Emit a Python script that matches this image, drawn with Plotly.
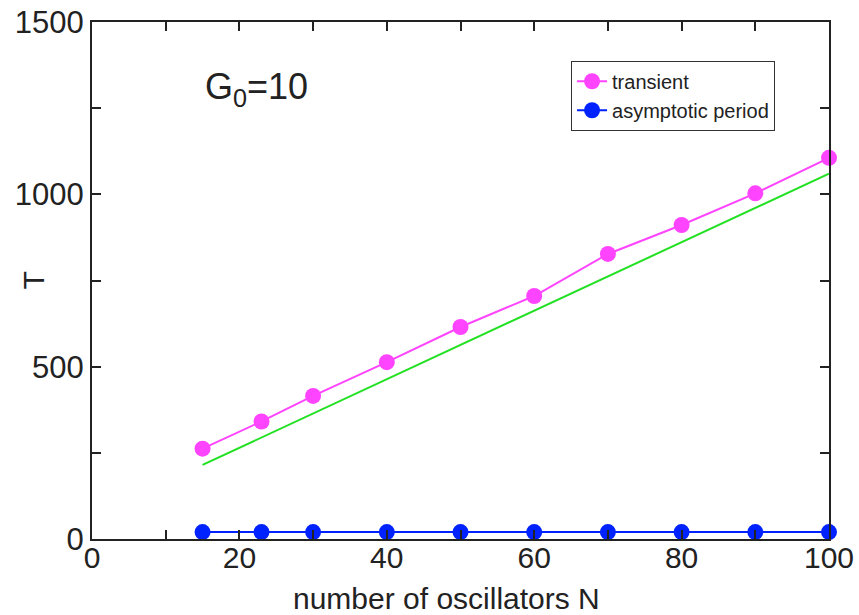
import plotly.graph_objects as go

N = [15, 23, 30, 40, 50, 60, 70, 80, 90, 100]
transient = [262, 341, 415, 513, 615, 705, 827, 911, 1003, 1106]
asymptotic = [20, 20, 20, 20, 20, 20, 20, 20, 20, 20]
fit_x = [15, 100]
fit_y = [215, 1060]

FONT = "Liberation Sans, Arial, sans-serif"
AX = "#222222"

fig = go.Figure()
fig.add_trace(go.Scatter(x=fit_x, y=fit_y, mode="lines",
                         line=dict(color="#22e022", width=2),
                         showlegend=False, cliponaxis=False))
fig.add_trace(go.Scatter(x=N, y=transient, mode="lines+markers", name="transient",
                         line=dict(color="#ff44ff", width=2),
                         marker=dict(color="#ff44ff", size=16),
                         cliponaxis=False))
fig.add_trace(go.Scatter(x=N, y=asymptotic, mode="lines+markers", name="asymptotic period",
                         line=dict(color="#0022ff", width=2),
                         marker=dict(color="#0022ff", size=16),
                         cliponaxis=False))

fig.update_layout(
    width=859, height=615,
    margin=dict(l=92, r=30, t=22, b=76),
    plot_bgcolor="white", paper_bgcolor="white",
    font=dict(family=FONT, size=30, color="#222222"),
    legend=dict(x=0.65, y=0.925, xanchor="left", yanchor="top",
                bgcolor="white", bordercolor="#333333", borderwidth=1,
                font=dict(size=20, family=FONT, color="#222222"),
                tracegroupgap=0, itemwidth=30),
    xaxis=dict(range=[0, 100], dtick=20, tick0=0, automargin=False,
               ticks="inside", ticklen=9, tickwidth=1.5, tickcolor=AX,
               minor=dict(dtick=10, ticks="inside", ticklen=9, tickcolor=AX),
               showline=True, linecolor=AX, linewidth=2, mirror="ticks",
               showgrid=False, zeroline=False, ticklabelstandoff=-9,
               tickfont=dict(size=30)),
    yaxis=dict(range=[0, 1500], dtick=500, tick0=0, automargin=False,
               ticks="inside", ticklen=9, tickwidth=1.5, tickcolor=AX,
               minor=dict(dtick=250, ticks="inside", ticklen=9, tickcolor=AX),
               showline=True, linecolor=AX, linewidth=2, mirror="ticks",
               showgrid=False, zeroline=False,
               tickfont=dict(size=31)),
    annotations=[
        dict(text="G<sub>0</sub>=10", x=0.15, y=0.87,
             xref="paper", yref="paper", xanchor="left", yanchor="middle",
             showarrow=False, font=dict(size=36, family=FONT, color="#222222")),
        dict(text="number of oscillators N", x=0.481, y=-0.115,
             xref="paper", yref="paper", xanchor="center", yanchor="middle",
             showarrow=False, font=dict(size=30, family=FONT, color="#222222")),
        dict(text="T", x=-0.08, y=0.5, textangle=-90,
             xref="paper", yref="paper", xanchor="center", yanchor="middle",
             showarrow=False, font=dict(size=30, family=FONT, color="#222222")),
    ],
)

fig.write_html("out.html")
